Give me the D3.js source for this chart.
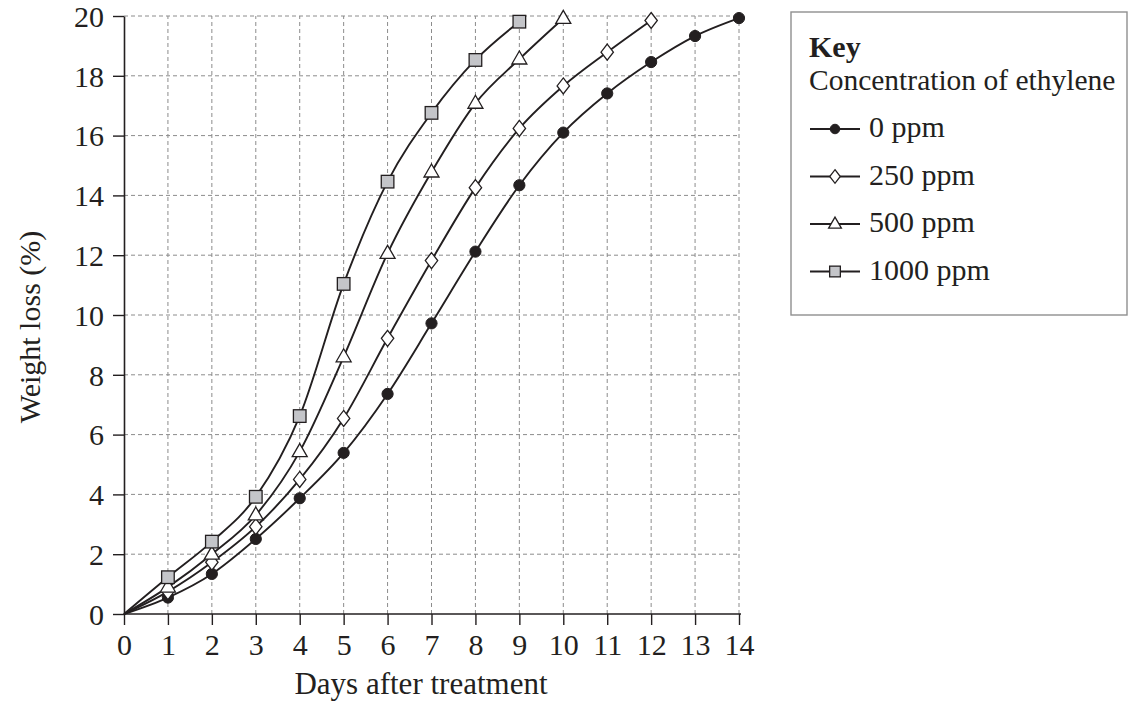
<!DOCTYPE html>
<html><head><meta charset="utf-8">
<script src="https://cdn.jsdelivr.net/npm/d3@7"></script>
<style>
html,body{margin:0;padding:0;background:#fff;}
svg text{font-family:"Liberation Serif","Times New Roman",serif;fill:#231f20;}
</style></head>
<body><svg id="c" width="1128" height="704"></svg>
<script>
const days = [0,1,2,3,4,5,6,7,8,9,10,11,12,13,14];
const ppm0    = [0, 0.55, 1.34, 2.51, 3.87, 5.39, 7.36, 9.72, 12.12, 14.34, 16.1, 17.41, 18.46, 19.33, 19.93];
const ppm250  = [0, 0.75, 1.73, 2.92, 4.5, 6.54, 9.22, 11.82, 14.26, 16.24, 17.66, 18.79, 19.85];
const ppm500  = [0, 0.9, 2.0, 3.31, 5.43, 8.6, 12.06, 14.78, 17.08, 18.56, 19.92];
const ppm1000 = [0, 1.23, 2.42, 3.92, 6.62, 11.04, 14.46, 16.76, 18.53, 19.81];
const seriesNames = ["0 ppm","250 ppm","500 ppm","1000 ppm"];
const seriesMarkers = ["circle","diamond","triangle","square"];
const xTicks = [0,1,2,3,4,5,6,7,8,9,10,11,12,13,14];
const yTicks = [0,2,4,6,8,10,12,14,16,18,20];
const xTitle = "Days after treatment";
const yTitle = "Weight loss (%)";
const keyTitle = "Key";
const keySub = "Concentration of ethylene";

const series = [ppm0, ppm250, ppm500, ppm1000].map((v,i)=>({
  name: seriesNames[i], marker: seriesMarkers[i],
  pts: v.map((y,j)=>({x: days[j], y}))
}));

const svg = d3.select("#c");
const x = d3.scaleLinear().domain([0,14]).range([124,739]);
const y = d3.scaleLinear().domain([0,20]).range([614,16]);
const ink = "#231f20";

// grid
const g = svg.append("g");
g.selectAll("line.vg").data(xTicks.filter(d=>d>0)).join("line")
  .attr("x1",d=>x(d)).attr("x2",d=>x(d)).attr("y1",y(0)).attr("y2",y(20))
  .attr("stroke","#8c8c8c").attr("stroke-width",1).attr("stroke-dasharray","4,3");
g.selectAll("line.hg").data(yTicks.filter(d=>d>0)).join("line")
  .attr("x1",x(0)).attr("x2",x(14)).attr("y1",d=>y(d)).attr("y2",d=>y(d))
  .attr("stroke","#8c8c8c").attr("stroke-width",1).attr("stroke-dasharray","4,3");

// axes
const xa = svg.append("g").attr("transform",`translate(0,${y(0)})`)
  .call(d3.axisBottom(x).tickValues(xTicks).tickSize(11).tickSizeOuter(0).tickPadding(4).tickFormat(d3.format("d")));
const ya = svg.append("g").attr("transform",`translate(${x(0)},0)`)
  .call(d3.axisLeft(y).tickValues(yTicks).tickSize(11).tickSizeOuter(0).tickPadding(9).tickFormat(d3.format("d")));
[xa,ya].forEach(a=>{
  a.select(".domain").attr("stroke",ink).attr("stroke-width",1.6);
  a.selectAll(".tick line").attr("stroke",ink).attr("stroke-width",1.4);
  a.selectAll(".tick text").attr("fill",ink).attr("font-family","Liberation Serif, serif");
});
xa.select(".domain").attr("d",`M${x(0)},0H${x(14)+2}`);
xa.selectAll(".tick text").attr("font-size",30).attr("dy","0.85em");
ya.selectAll(".tick text").attr("font-size",30).attr("dy","0.34em");

// titles
svg.append("text").attr("x",421).attr("y",694).attr("text-anchor","middle")
  .attr("font-size",31).text(xTitle);
svg.append("text").attr("transform","translate(40,327) rotate(-90)").attr("text-anchor","middle")
  .attr("font-size",30).text(yTitle);

// marker drawing
function drawMarker(sel, type, s){
  if(type==="circle"){
    sel.append("circle").attr("r",5.6*s).attr("fill",ink).attr("stroke",ink).attr("stroke-width",1);
  } else if(type==="diamond"){
    const w=6.2*s,h=8*s;
    sel.append("path").attr("d",`M0,${-h}L${w},0L0,${h}L${-w},0Z`).attr("fill","#fff").attr("stroke",ink).attr("stroke-width",1.3);
  } else if(type==="triangle"){
    const w=7.5*s,h=13*s;
    sel.append("path").attr("d",`M0,${-h*0.62}L${w},${h*0.38}L${-w},${h*0.38}Z`).attr("fill","#fff").attr("stroke",ink).attr("stroke-width",1.3);
  } else {
    const a=6.3*s;
    sel.append("rect").attr("x",-a).attr("y",-a).attr("width",2*a).attr("height",2*a)
      .attr("fill","#c4c5c9").attr("stroke",ink).attr("stroke-width",1.3);
  }
}

const line = d3.line().x(d=>x(d.x)).y(d=>y(d.y)).curve(d3.curveMonotoneX);
series.forEach(s=>{
  svg.append("path").attr("d",line(s.pts)).attr("fill","none").attr("stroke",ink).attr("stroke-width",1.9);
});
series.forEach(s=>{
  s.pts.filter(p=>p.x>0).forEach(p=>{
    const m = svg.append("g").attr("transform",`translate(${x(p.x)},${y(p.y)})`);
    drawMarker(m, s.marker, 1);
  });
});

// legend
const lg = svg.append("g");
lg.append("rect").attr("x",791).attr("y",12).attr("width",336).attr("height",303)
  .attr("fill","#fff").attr("stroke","#8f8f8f").attr("stroke-width",1.4);
lg.append("text").attr("x",809).attr("y",57).attr("font-size",30).attr("font-weight","bold").text(keyTitle);
lg.append("text").attr("x",809).attr("y",90).attr("font-size",29.5).text(keySub);
series.forEach((s,i)=>{
  const by = 137 + i*47.5;
  const cy = by - 8;
  lg.append("line").attr("x1",810).attr("x2",860).attr("y1",cy).attr("y2",cy).attr("stroke",ink).attr("stroke-width",1.9);
  const m = lg.append("g").attr("transform",`translate(835,${cy})`);
  drawMarker(m, s.marker, 0.85);
  lg.append("text").attr("x",869).attr("y",by).attr("font-size",30).text(s.name);
});
</script></body></html>
